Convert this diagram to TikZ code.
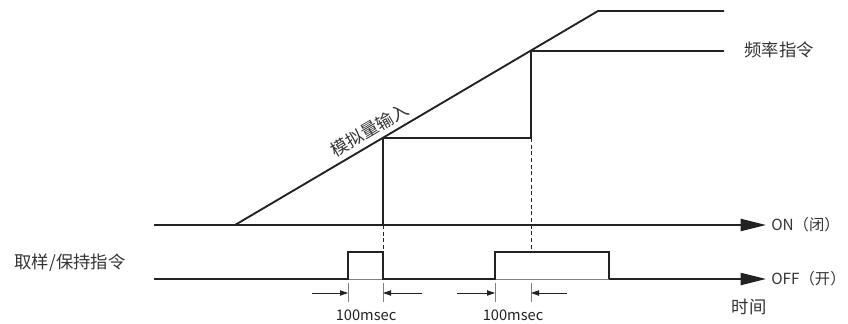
\documentclass[tikz,border=0pt]{standalone}
\usepackage{fontspec}
\setmainfont{Noto Sans CJK SC}
\usetikzlibrary{arrows.meta, positioning}
\definecolor{ink}{HTML}{222222}
\definecolor{txt}{HTML}{333333}
\tikzset{
    sig/.style={line width=1.4pt, ink},
    axis/.style={sig, -{Triangle[length=19pt, width=9pt]}},
    base/.style={line width=0.6pt, gray},
    guide/.style={densely dashed, line width=0.5pt, ink},
    tick/.style={line width=0.5pt, gray},
    dimarrow/.style={line width=0.6pt, ink, -{Triangle[length=6pt, width=4pt]}},
    lbl/.style={font=\fontsize{13}{15}\selectfont, text=txt, inner sep=1pt},
    state/.style={font=\fontsize{11.5}{14}\selectfont, text=txt, inner sep=0pt},
    small/.style={font=\fontsize{11}{13}\selectfont, text=ink, inner sep=1pt}
}
\begin{document}
\begin{tikzpicture}[x=0.75pt, y=-0.75pt]
    \useasboundingbox (0,0) rectangle (848,324);
    % Time axes
    \coordinate (on0) at (154,225);
    \coordinate (on1) at (766,225);
    \coordinate (off0) at (154,279);
    \coordinate (off1) at (766,279);
    \node[state, anchor=west] (onlbl) at (771,225) {ON（闭）};
    \node[state, anchor=west] (offlbl) at (771,279) {OFF（开）};
    \node[lbl] (time) at (749,307) {时间};
    \draw[axis] (on0) -- (on1);

    % Analog input ramp
    \coordinate (r0) at (235,225);
    \coordinate (r1) at (598,11);
    \coordinate (r2) at (724,11);
    \draw[sig] (r0) -- (r1) -- (r2);
    \path (r0) -- node[lbl, pos=0.39, sloped, above=3pt] (analog) {模拟量输入} (r1);

    % Frequency command
    \coordinate (f0) at (383,225);
    \coordinate (f1) at (383,138);
    \coordinate (f2) at (531,138);
    \coordinate (f3) at (531,51);
    \coordinate (f4) at (724,51);
    \draw[sig] (f0) -- (f1) -- (f2) -- (f3) -- (f4);
    \node[lbl, anchor=west] (freq) at (743,50) {频率指令};

    % Sample/hold command
    \node[lbl] (sh) at (70,263) {取样/保持指令};
    \coordinate (p1a) at (348,279);
    \coordinate (p1b) at (348,252);
    \coordinate (p1c) at (383,252);
    \coordinate (p1d) at (383,279);
    \coordinate (p2a) at (495,279);
    \coordinate (p2b) at (495,252);
    \coordinate (p2c) at (609,252);
    \coordinate (p2d) at (609,279);
    \coordinate (d2) at (531,252);
    \draw[base] (p1a) -- (p1d);
    \draw[base] (p2a) -- (p2d);
    \draw[sig] (off0) -- (p1a) -- (p1b) -- (p1c) -- (p1d) -- (p2a) -- (p2b) -- (p2c) -- (p2d);
    \draw[axis] (p2d) -- (off1);

    % Sync guides
    \draw[guide] (f0) -- (p1c);
    \draw[guide] (f2) -- (d2);

    % 100 msec delays
    \foreach \x/\n in {348/a, 383/b, 495/c, 531/d} {
        \coordinate (t\n0) at (\x,283);
        \coordinate (t\n1) at (\x,302);
        \coordinate (m\n) at (\x,293);
        \draw[tick] (t\n0) -- (t\n1);
    }
    \coordinate (la) at (312,293);
    \coordinate (lb) at (422,293);
    \coordinate (lc) at (457,293);
    \coordinate (ld) at (567,293);
    \draw[dimarrow] (la) -- (ma);
    \draw[dimarrow] (lb) -- (mb);
    \draw[dimarrow] (lc) -- (mc);
    \draw[dimarrow] (ld) -- (md);
    \node[small] (delay1) at (366,315) {100msec};
    \node[small] (delay2) at (513,315) {100msec};
\end{tikzpicture}
\end{document}
